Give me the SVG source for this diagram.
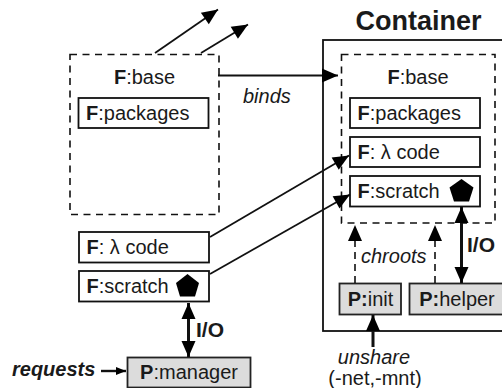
<svg xmlns="http://www.w3.org/2000/svg" width="502" height="388" viewBox="0 0 502 388">
<defs>
<style>
text{font-family:"Liberation Sans",Arial,sans-serif;font-size:20px;fill:#1a1a1a}
.t{text-anchor:middle}
.b{font-weight:bold}
.i{font-style:italic}
.box{fill:#fff;stroke:#111;stroke-width:1.8}
.proc{fill:#dcdcdc;stroke:#222;stroke-width:1.8}
.dash{fill:none;stroke:#111;stroke-width:1.6;stroke-dasharray:7 5.5}
.ln{fill:none;stroke:#111;stroke-width:1.8}
.thick{fill:none;stroke:#111;stroke-width:3}
.ddash{fill:none;stroke:#111;stroke-width:1.6;stroke-dasharray:7 5}
</style>
<marker id="a" markerUnits="userSpaceOnUse" markerWidth="20" markerHeight="16" refX="16" refY="7" orient="auto-start-reverse" overflow="visible"><path d="M0 0L16 7L0 14Z" fill="#000"/></marker>
<marker id="s" markerUnits="userSpaceOnUse" markerWidth="12" markerHeight="10" refX="10" refY="4" orient="auto" overflow="visible"><path d="M0 0L10 4L0 8Z" fill="#000"/></marker>
</defs>
<rect id="container-frame" x="323" y="40" width="190" height="291" fill="#fff" stroke="#111" stroke-width="1.8"/>
<text id="container-title" x="418.500" y="30" class="t b" style="font-size:27px">Container</text>
<g id="host-base"><rect x="70" y="54.500" width="149" height="160" class="dash"/><text x="144.500" y="84" class="t"><tspan class="b">F</tspan>:base</text></g>
<g id="host-packages"><rect x="78.500" y="98" width="130" height="30" class="box"/><text x="86" y="120"><tspan class="b">F</tspan>:packages</text></g>
<g id="cont-base"><rect x="341.500" y="54.500" width="153.500" height="168.500" class="dash"/><text x="418" y="84" class="t"><tspan class="b">F</tspan>:base</text></g>
<g id="cont-packages"><rect x="350" y="98" width="130" height="30" class="box"/><text x="357.500" y="120"><tspan class="b">F</tspan>:packages</text></g>
<g id="cont-code"><rect x="350" y="137" width="130" height="30" class="box"/><text x="357.500" y="159"><tspan class="b">F</tspan>: λ code</text></g>
<g id="cont-scratch"><rect x="350" y="176" width="130" height="30.500" class="box"/><text x="357.500" y="198"><tspan class="b">F</tspan>:scratch</text><path d="M461.500 179L473.500 187.500L469 201.500L454 201.500L449.500 187.500Z" fill="#000"/></g>
<g id="host-code"><rect x="79" y="232" width="130" height="30.500" class="box"/><text x="86.500" y="254"><tspan class="b">F</tspan>: λ code</text></g>
<g id="host-scratch"><rect x="79" y="271" width="130" height="30.500" class="box"/><text x="86.500" y="293"><tspan class="b">F</tspan>:scratch</text><path d="M187.500 274L199 283L195 296.500L180 296.500L176 283Z" fill="#000"/></g>
<g id="manager"><rect x="127.500" y="357.500" width="123" height="30" class="proc"/><text x="189" y="379" class="t"><tspan class="b">P</tspan>:manager</text></g>
<g id="init"><rect x="339.500" y="283.500" width="61.500" height="31" class="proc"/><text x="370.500" y="306" class="t"><tspan class="b">P:</tspan>init</text></g>
<g id="helper"><rect x="409.500" y="283.500" width="100" height="31" class="proc"/><text x="457" y="306" class="t"><tspan class="b">P:</tspan>helper</text></g>
<g id="connectors">
<path d="M155 53L218 9.500" class="ln" marker-end="url(#a)"/>
<path d="M201 53L248 24.500" class="ln" marker-end="url(#a)"/>
<path d="M218 75.500H338" class="ln" marker-end="url(#a)"/>
<path d="M210 237L349 155.500" class="ln" marker-end="url(#a)"/>
<path d="M210 274L350 194.500" class="ln" marker-end="url(#a)"/>
<path d="M188.500 303V357" class="thick" marker-start="url(#a)" marker-end="url(#a)"/>
<path d="M461.500 207V283" class="thick" marker-start="url(#a)" marker-end="url(#a)"/>
<path d="M355 283V225" class="ddash" marker-end="url(#a)"/>
<path d="M435 283V225" class="ddash" marker-end="url(#a)"/>
<path d="M373 347V315" class="thick" marker-end="url(#a)"/>
<path d="M101 371H126" class="ln" style="stroke-width:2.4" marker-end="url(#s)"/>
</g>
<text x="243" y="103" class="i">binds</text>
<text x="361" y="263" class="i">chroots</text>
<text x="467" y="252" class="b" style="font-size:21px">I/O</text>
<text x="196" y="337" class="b" style="font-size:21px">I/O</text>
<text x="12" y="376" class="b i">requests</text>
<text x="374" y="364" class="t i">unshare</text>
<text x="375" y="384.500" class="t">(-net,-mnt)</text>
</svg>
